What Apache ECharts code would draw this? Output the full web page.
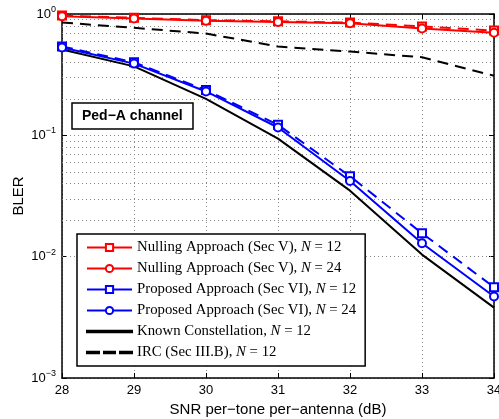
<!DOCTYPE html>
<html>
<head>
<meta charset="utf-8">
<script src="https://cdn.jsdelivr.net/npm/echarts@6/dist/echarts.min.js"></script>
<style>
html,body{margin:0;padding:0;background:#fff;}
#main{width:499px;height:419px;}
</style>
</head>
<body>
<div id="main"></div>
<script>
// SNR (dB)
var snr = [28, 29, 30, 31, 32, 33, 34];

// BLER curves
var nullingN12  = [0.97, 0.93, 0.89, 0.87, 0.85, 0.79, 0.73];
var nullingN24  = [0.96, 0.92, 0.88, 0.86, 0.84, 0.76, 0.70];
var proposedN12 = [0.54, 0.40, 0.236, 0.122, 0.046, 0.0156, 0.0056];
var proposedN24 = [0.53, 0.39, 0.23, 0.116, 0.042, 0.0129, 0.0047];
var knownN12    = [0.51, 0.37, 0.20, 0.094, 0.035, 0.0104, 0.0038];
var ircN12      = [0.85, 0.77, 0.69, 0.54, 0.49, 0.44, 0.31];

var names = [
    'Nulling Approach (Sec V), N = 12',
    'Nulling Approach (Sec V), N = 24',
    'Proposed Approach (Sec VI), N = 12',
    'Proposed Approach (Sec VI), N = 24',
    'Known Constellation, N = 12',
    'IRC (Sec III.B), N = 12'
];

function pairs(arr){
    return arr.map(function(v,i){ return [snr[i], v]; });
}

// minor log grid positions 2..9 per decade
var minorGrid = [];
[0.001, 0.01, 0.1].forEach(function(d){
    for(var k=2;k<=9;k++){ minorGrid.push({yAxis: k*d}); }
});

var dash = [11, 7];
var chart = echarts.init(document.getElementById('main'));

function mkSeries(name, data, color, type, symbol){
    return {
        name: name,
        type: 'line',
        data: pairs(data),
        symbol: symbol || 'none',
        symbolSize: 8,
        showSymbol: !!symbol,
        z: 3,
        lineStyle: {color: color, width: 2, type: type},
        itemStyle: {color: color, borderColor: color, borderWidth: 2},
        emphasis: {disabled: true}
    };
}

var series = [
    mkSeries(names[0], nullingN12, '#ff0000', dash, 'emptyRect'),
    mkSeries(names[1], nullingN24, '#ff0000', 'solid', 'emptyCircle'),
    mkSeries(names[2], proposedN12, '#0000ff', dash, 'emptyRect'),
    mkSeries(names[3], proposedN24, '#0000ff', 'solid', 'emptyCircle'),
    mkSeries(names[4], knownN12, '#000000', 'solid'),
    mkSeries(names[5], ircN12, '#000000', dash)
];
series[4].z = 2;
series[5].z = 2;
series[0].markLine = {
    silent: true,
    symbol: 'none',
    label: {show: false},
    lineStyle: {color: '#8a8a8a', type: [1, 3], width: 1},
    data: minorGrid,
    z: 1
};

var gridLine = {show: true, lineStyle: {color: '#8a8a8a', type: [1, 3], width: 1}};

var option = {
    animation: false,
    backgroundColor: '#ffffff',
    grid: {left: 62, right: 5, top: 14, bottom: 41, outerBoundsMode: 'none'},
    title: {
        text: 'Ped\u2212A channel',
        left: 72,
        top: 103,
        padding: [6, 10, 6, 10],
        borderColor: '#000',
        borderWidth: 1.5,
        backgroundColor: '#fff',
        textStyle: {fontFamily: 'Liberation Sans', fontWeight: 'bold', fontSize: 14, color: '#000'}
    },
    legend: {
        left: 77,
        top: 234,
        orient: 'vertical',
        padding: [6, 9, 6, 9],
        itemGap: 6,
        itemWidth: 45,
        itemHeight: 9,
        borderColor: '#000',
        borderWidth: 1.5,
        backgroundColor: '#fff',
        data: [
            {name: names[0], lineStyle: {type: 'solid'}},
            {name: names[1]},
            {name: names[2], lineStyle: {type: 'solid'}},
            {name: names[3]},
            {name: names[4], icon: 'path://M0,0h45v1.6h-45z'},
            {name: names[5], icon: 'path://M0,0h12v1.6h-12z M17,0h11v1.6h-11z M33,0h12v1.6h-12z'}
        ],
        formatter: function(name){
            return name.replace(', N = ', ', {i|N} = ');
        },
        textStyle: {
            fontFamily: 'Liberation Serif',
            fontSize: 14.8,
            color: '#000',
            rich: {
                i: {fontFamily: 'Liberation Serif', fontStyle: 'italic', fontSize: 14.8, color: '#000'}
            }
        }
    },
    xAxis: [{
        type: 'value',
        min: 28,
        max: 34,
        interval: 1,
        name: 'SNR per\u2212tone per\u2212antenna (dB)',
        nameLocation: 'middle',
        nameGap: 24,
        nameMoveOverlap: false,
        nameTextStyle: {fontFamily: 'Liberation Sans', fontSize: 15, color: '#000'},
        axisLine: {lineStyle: {color: '#000', width: 1.5}},
        axisTick: {inside: true, length: 5, lineStyle: {color: '#000'}},
        axisLabel: {fontFamily: 'Liberation Sans', fontSize: 13, color: '#000', margin: 6},
        splitLine: gridLine
    }, {
        type: 'value',
        position: 'top',
        min: 28,
        max: 34,
        interval: 1,
        axisLine: {show: true, lineStyle: {color: '#000', width: 1.5}},
        axisTick: {show: true, inside: true, length: 5, lineStyle: {color: '#000'}},
        axisLabel: {show: false},
        splitLine: {show: false}
    }],
    yAxis: [{
        type: 'log',
        logBase: 10,
        min: 0.001,
        max: 1,
        name: 'BLER',
        nameLocation: 'middle',
        nameGap: 36,
        nameMoveOverlap: false,
        nameTextStyle: {fontFamily: 'Liberation Sans', fontSize: 15, color: '#000'},
        axisLine: {show: true, lineStyle: {color: '#000', width: 1.5}},
        axisTick: {show: true, inside: true, length: 5, lineStyle: {color: '#000'}},
        axisLabel: {
            color: '#000',
            margin: 6,
            formatter: function(v){
                var e = Math.round(Math.log10(v));
                return '{b|10}{s|' + (e < 0 ? '\u2212' + (-e) : e) + '}';
            },
            rich: {
                b: {fontFamily: 'Liberation Sans', fontSize: 13, color: '#000'},
                s: {fontFamily: 'Liberation Sans', fontSize: 9, color: '#000', verticalAlign: 'bottom', padding: [0, 0, 9, 0]}
            }
        },
        splitLine: gridLine
    }, {
        type: 'log',
        logBase: 10,
        min: 0.001,
        max: 1,
        position: 'right',
        axisLine: {show: true, lineStyle: {color: '#000', width: 1.5}},
        axisTick: {show: true, inside: true, length: 5, lineStyle: {color: '#000'}},
        axisLabel: {show: false},
        splitLine: {show: false}
    }],
    series: series
};

chart.setOption(option);
</script>
</body>
</html>
